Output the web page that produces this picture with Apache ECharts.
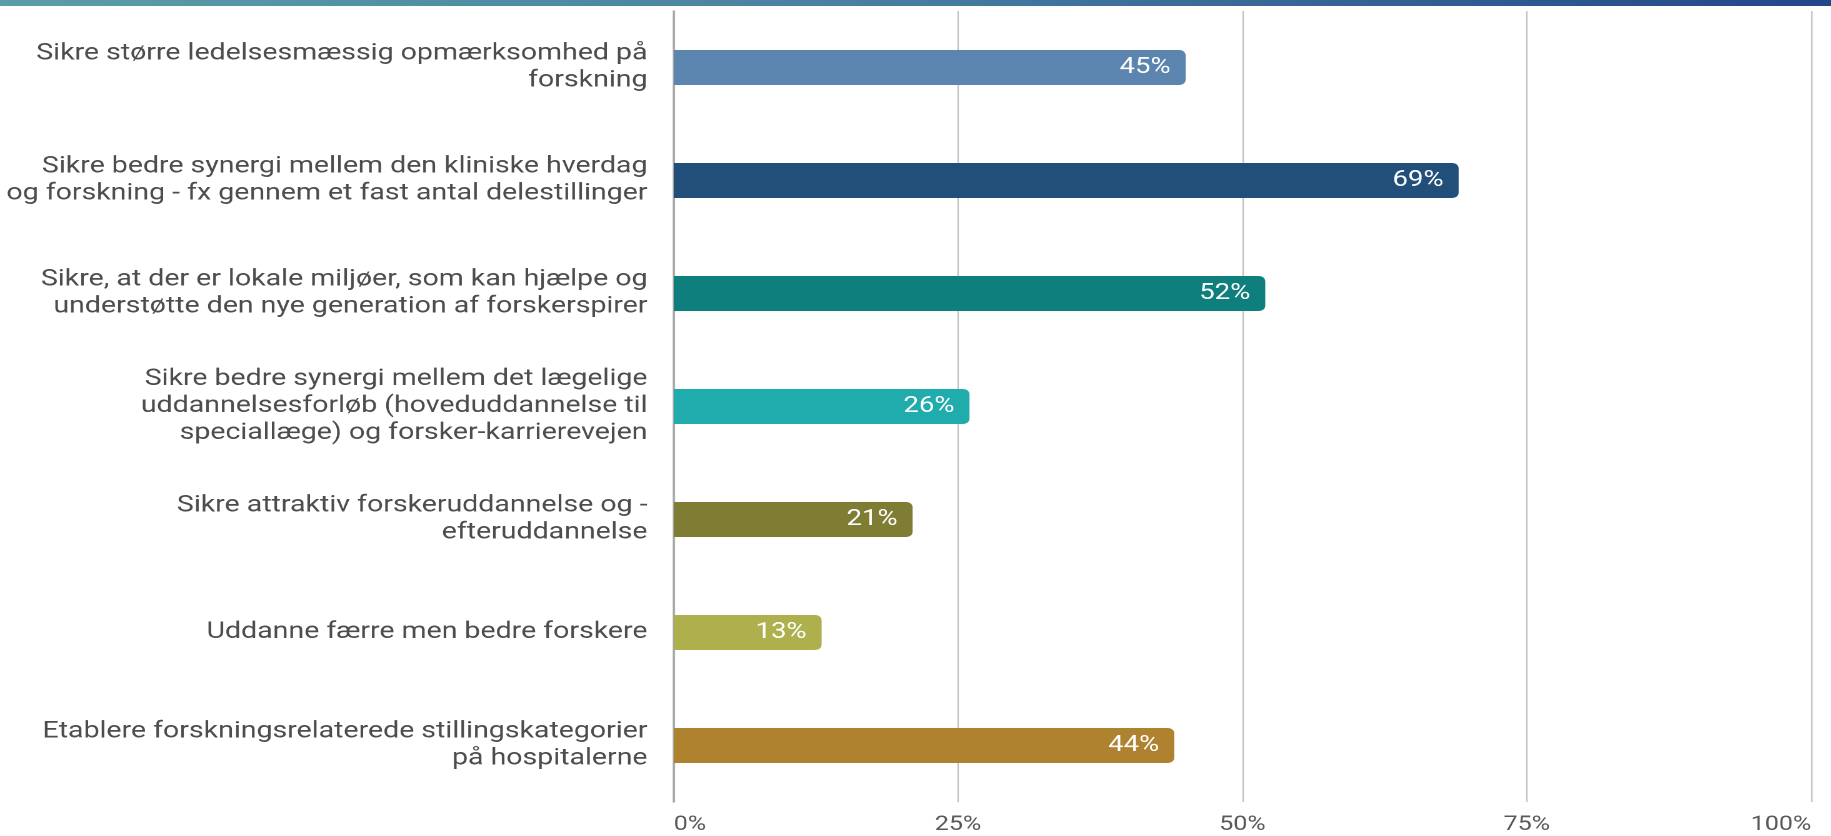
<!DOCTYPE html>
<html>
<head>
<meta charset="utf-8">
<script src="https://cdn.jsdelivr.net/npm/echarts@6/dist/echarts.min.js"></script>
<style>
html,body{margin:0;padding:0;background:#fff;overflow:hidden;}
/* originalen er strakt vandret, derfor tegnes smallere og strækkes */
#main{width:1465px;height:836px;transform:scaleX(1.25);transform-origin:0 0;}
</style>
</head>
<body>
<div id="main"></div>
<script>
// kategorier (oppefra og ned)
var categories = [
    'Sikre større ledelsesmæssig opmærksomhed på\nforskning',
    'Sikre bedre synergi mellem den kliniske hverdag\nog forskning - fx gennem et fast antal delestillinger',
    'Sikre, at der er lokale miljøer, som kan hjælpe og\nunderstøtte den nye generation af forskerspirer',
    'Sikre bedre synergi mellem det lægelige\nuddannelsesforløb (hoveduddannelse til\nspeciallæge) og forsker-karrierevejen',
    'Sikre attraktiv forskeruddannelse og -\nefteruddannelse',
    'Uddanne færre men bedre forskere',
    'Etablere forskningsrelaterede stillingskategorier\npå hospitalerne'
];
var values = [45, 69, 52, 26, 21, 13, 44];
var barColors = ['#5b84ae', '#224f7a', '#0f7f7e', '#20acac', '#7f7d33', '#adb04d', '#ae822f'];
var xTicks = [0, 25, 50, 75, 100];

var myChart = echarts.init(document.getElementById('main'), null, {devicePixelRatio: 2});

// søjledata med egen farve
var barData = [];
for (var i = 0; i < values.length; i++) {
    barData.push({value: values[i], itemStyle: {color: barColors[i]}});
}

var option = {
    backgroundColor: '#ffffff',
    animation: false,
    textStyle: {fontFamily: 'Roboto'},
    graphic: [{
        type: 'rect',
        left: 0, top: 0,
        shape: {width: 1465, height: 6},
        style: {
            fill: new echarts.graphic.LinearGradient(0, 0, 1, 0, [
                {offset: 0, color: '#5a9ea8'},
                {offset: 0.45, color: '#4a82a2'},
                {offset: 1, color: '#23468a'}
            ])
        },
        z: 10
    }],
    grid: {left: 539, right: 16, top: 11, bottom: 34, containLabel: false},
    xAxis: {
        type: 'value',
        min: xTicks[0],
        max: xTicks[xTicks.length - 1],
        interval: 25,
        axisLine: {show: false},
        axisTick: {show: false},
        splitLine: {lineStyle: {color: '#c4c4c4', width: 1.2}},
        axisLabel: {
            color: '#595959',
            fontSize: 20,
            margin: 13,
            alignMinLabel: 'left',
            alignMaxLabel: 'right',
            formatter: '{value}%'
        }
    },
    yAxis: {
        type: 'category',
        inverse: true,
        data: categories,
        axisLine: {show: true, lineStyle: {color: '#a6a6a6', width: 1.6}},
        axisTick: {show: false},
        axisLabel: {
            color: '#4d4d4d',
            fontSize: 22.8,
            lineHeight: 27,
            align: 'right',
            margin: 21
        }
    },
    series: [{
        type: 'bar',
        data: barData,
        barWidth: 35,
        itemStyle: {borderRadius: [0, 5, 5, 0]},
        label: {
            show: true,
            position: 'insideRight',
            distance: 12,
            color: '#ffffff',
            fontSize: 22,
            formatter: '{c}%'
        }
    }]
};

myChart.setOption(option);
</script>
</body>
</html>
